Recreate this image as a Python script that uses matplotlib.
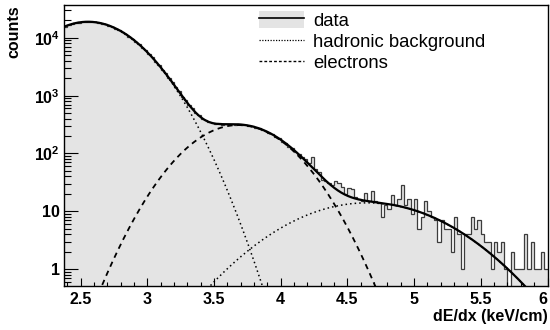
import numpy as np
import matplotlib
matplotlib.use("Agg")
import matplotlib.pyplot as plt
from matplotlib.patches import Patch
from matplotlib.lines import Line2D
from matplotlib.ticker import MultipleLocator, FixedLocator, FixedFormatter, LogLocator, NullFormatter, FuncFormatter

plt.rcParams['font.family'] = ['Liberation Sans', 'DejaVu Sans']
plt.rcParams['mathtext.fontset'] = 'custom'
plt.rcParams['mathtext.rm'] = 'Liberation Sans'
plt.rcParams['mathtext.bf'] = 'Liberation Sans:bold'

# histogram: first bin edge, bin width, counts per bin
bin_lo = 2.375
bin_width = 0.025
counts = [
    15700, 16900, 17300, 18200, 18400, 18900, 19100, 18900, 18950, 18500,
    18300, 17600, 17100, 16200, 15500, 14500, 13700, 12600, 11700, 10550,
    9680, 8610, 7780, 6800, 6070, 5220, 4590, 3890, 3380, 2820,
    2430, 1990, 1710, 1390, 1190, 965, 835, 680, 600, 498,
    462, 398, 380, 344, 342, 320, 330, 316, 327, 318,
    326, 314, 325, 311, 316, 298, 300, 277, 276, 254,
    248, 224, 218, 192, 186, 160, 153, 131, 124, 104,
    97, 88, 80, 68, 88, 53, 47, 35, 33, 31,
    28, 33, 31, 26, 20, 25, 24, 18, 16, 15,
    21, 15, 22, 15, 14, 8, 13, 11, 19, 13,
    16, 29, 13, 16, 9, 16, 5, 8, 15, 10,
    8, 7, 3, 7, 5, 5, 2, 8, 4, 1,
    4, 4, 8, 5, 7, 4, 3, 3, 1, 3,
    2, 3, 1, 0, 2, 1, 1, 1, 4, 1,
    3, 1, 1, 2, 1,
]

# fitted gaussians: amplitude, mean, sigma
pion_fit = [19000, 2.555, 0.285]
heavy_fit = [14, 4.65, 0.4585]
electron_fit = [310, 3.683, 0.2863]

legend_labels = ["data", "hadronic background", "electrons"]

edges = bin_lo + bin_width * np.arange(len(counts) + 1)
vals = np.array(counts, dtype=float)
shown = np.where(vals > 0, vals, 1e-3)

x = np.linspace(bin_lo, 6.0, 1000)


def gauss(p):
    return p[0] * np.exp(-0.5 * ((x - p[1]) / p[2]) ** 2)


pion = gauss(pion_fit)
heavy = gauss(heavy_fit)
elec = gauss(electron_fit)
total = pion + heavy + elec

fig = plt.figure(figsize=(5.5, 3.3), dpi=100)
ax = fig.add_axes([64 / 550, 44 / 330, 483.5 / 550, 281 / 330])

fill_col = '#e4e4e4'
ax.stairs(shown, edges, baseline=1e-3, fill=True, color=fill_col, lw=0)
ax.stairs(shown, edges, baseline=None, color='#3c3c3c', lw=0.9)

dot = (0, (1, 2))
dash = (0, (3, 2.5))
ax.plot(x, pion, color='k', ls=dot, lw=1.1)
ax.plot(x, heavy, color='k', ls=dot, lw=1.1)
ax.plot(x, elec, color='k', ls=dash, lw=1.3)
ax.plot(x, total, color='k', lw=1.6)

ax.set_yscale('log')
ax.set_xlim(bin_lo, 6.0)
ax.set_ylim(0.51, 3.7e4)

ax.xaxis.set_major_locator(MultipleLocator(0.5))
ax.xaxis.set_minor_locator(MultipleLocator(0.1))
ax.xaxis.set_major_formatter(FuncFormatter(lambda v, p: f"{v:g}"))
ax.yaxis.set_major_locator(FixedLocator([1, 10, 100, 1000, 10000]))
ax.yaxis.set_major_formatter(FixedFormatter(
    ['1', '10', r'$\mathbf{10^{2}}$', r'$\mathbf{10^{3}}$', r'$\mathbf{10^{4}}$']))
ax.yaxis.set_minor_locator(LogLocator(base=10, subs=np.arange(2, 10), numticks=20))
ax.yaxis.set_minor_formatter(NullFormatter())

ax.tick_params(axis='x', which='major', direction='in', length=6.0, width=0.8,
               pad=4, labelsize=11.5)
ax.tick_params(axis='x', which='minor', direction='in', length=3.0, width=0.8)
ax.tick_params(axis='y', which='major', direction='in', length=10.4, width=0.8,
               pad=3, labelsize=11.5)
ax.tick_params(axis='y', which='minor', direction='in', length=5.2, width=0.8)
for s in ax.spines.values():
    s.set_linewidth(1.0)

fig.canvas.draw()
for lab in ax.get_xticklabels() + ax.get_yticklabels():
    lab.set_fontweight('bold')
# keep the last x label inside the canvas
xlabs = [l for l in ax.get_xticklabels() if l.get_text() == '6']
for l in xlabs:
    l.set_horizontalalignment('right')

fig.text(14 / 550, 1 - 5 / 330, "counts", rotation=90, ha='center', va='top',
         fontsize=11.5, fontweight='bold')
fig.text(548 / 550, 1 - 316 / 330, "dE/dx (keV/cm)", ha='right', va='center',
         fontsize=11.5, fontweight='bold')

handles = [
    (Patch(facecolor=fill_col, edgecolor='none'), Line2D([], [], color='k', lw=1.2)),
    Line2D([], [], color='k', ls=(0, (1, 1.2)), lw=0.9),
    Line2D([], [], color='k', ls=(0, (2, 1.5)), lw=1.0),
]
ax.legend(handles, legend_labels, loc='upper left',
          bbox_to_anchor=(259 / 550, 1 - 11 / 330), bbox_transform=fig.transFigure,
          frameon=False, fontsize=13.3, handlelength=2.45, handleheight=1.0,
          handletextpad=0.5, labelspacing=0.15, borderpad=0, borderaxespad=0)

fig.savefig("out.png", dpi=100)
